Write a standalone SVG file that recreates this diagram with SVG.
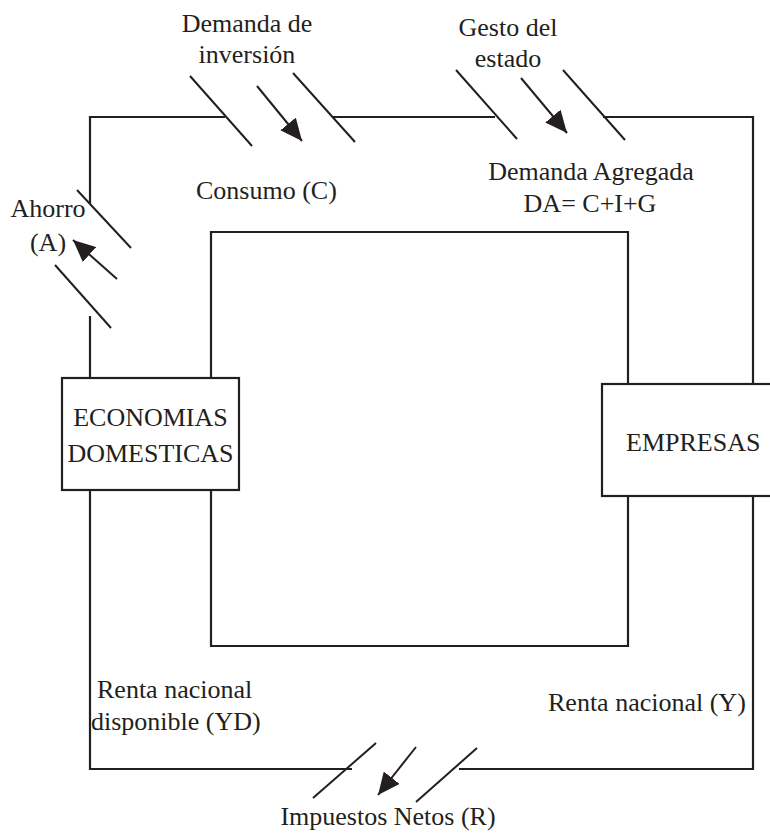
<svg xmlns="http://www.w3.org/2000/svg" width="770" height="833" viewBox="0 0 770 833">
<style>
  .ln { fill: none; stroke: #231f20; stroke-width: 2.2; }
  .sl { fill: none; stroke: #231f20; stroke-width: 2; }
  .box { fill: #ffffff; stroke: #231f20; stroke-width: 2.2; }
  text { font-family: "Liberation Serif", "Times New Roman", serif; font-size: 26px; fill: #231f20; }
  .c { text-anchor: middle; }
</style>
<defs>
  <marker id="big" viewBox="0 0 22 20" refX="22" refY="10" markerWidth="22" markerHeight="20" markerUnits="userSpaceOnUse" orient="auto">
    <path d="M0,0 L22,10 L0,20 z" fill="#231f20"/>
  </marker>
</defs>
<g id="connectors">
  <!-- outer loop -->
  <path class="ln" d="M225,117 L90,117 L90,204"/>
  <path class="ln" d="M90,316 L90,378"/>
  <path class="ln" d="M90,490 L90,769 L352,769"/>
  <path class="ln" d="M459,769 L753,769 L753,496"/>
  <path class="ln" d="M753,384 L753,117 L603,117"/>
  <path class="ln" d="M495,117 L333,117"/>
  <!-- inner loop -->
  <path class="ln" d="M211,378 L211,232 L628,232 L628,384"/>
  <path class="ln" d="M628,496 L628,646 L211,646 L211,490"/>
  <!-- top left: Demanda de inversion -->
  <line class="sl" x1="190" y1="76" x2="252" y2="146"/>
  <line class="sl" x1="293" y1="73" x2="355" y2="142"/>
  <line class="sl" x1="257" y1="86" x2="302" y2="141" marker-end="url(#big)"/>
  <!-- top right: Gesto del estado -->
  <line class="sl" x1="456" y1="70" x2="517" y2="139"/>
  <line class="sl" x1="563" y1="70" x2="625" y2="140"/>
  <line class="sl" x1="521" y1="78" x2="567" y2="133" marker-end="url(#big)"/>
  <!-- left: Ahorro -->
  <line class="sl" x1="77" y1="190" x2="131" y2="248"/>
  <line class="sl" x1="55" y1="265" x2="111" y2="328"/>
  <line class="sl" x1="117" y1="279" x2="73" y2="240" marker-end="url(#big)"/>
  <!-- bottom: Impuestos -->
  <line class="sl" x1="376" y1="743" x2="313" y2="798"/>
  <line class="sl" x1="477" y1="748" x2="416" y2="802"/>
  <line class="sl" x1="416" y1="747" x2="378" y2="795" marker-end="url(#big)"/>
</g>
<g id="node-economias">
  <rect class="box" x="62" y="378" width="177" height="112"/>
  <text class="c" x="150.5" y="426">ECONOMIAS</text>
  <text class="c" x="150.5" y="462">DOMESTICAS</text>
</g>
<g id="node-empresas">
  <rect class="box" x="602" y="384" width="180" height="112"/>
  <text x="626" y="451">EMPRESAS</text>
</g>
<g id="labels">
  <text class="c" x="247" y="32">Demanda de</text>
  <text class="c" x="247" y="63">inversión</text>
  <text class="c" x="508" y="36">Gesto del</text>
  <text class="c" x="508" y="67">estado</text>
  <text x="196" y="199">Consumo (C)</text>
  <text class="c" x="591" y="180">Demanda Agregada</text>
  <text class="c" x="590" y="212">DA= C+I+G</text>
  <text class="c" x="48" y="217">Ahorro</text>
  <text class="c" x="48" y="251">(A)</text>
  <text x="97" y="698">Renta nacional</text>
  <text x="91" y="730">disponible (YD)</text>
  <text x="548" y="711">Renta nacional (Y)</text>
  <text class="c" x="388" y="825">Impuestos Netos (R)</text>
</g>
</svg>
